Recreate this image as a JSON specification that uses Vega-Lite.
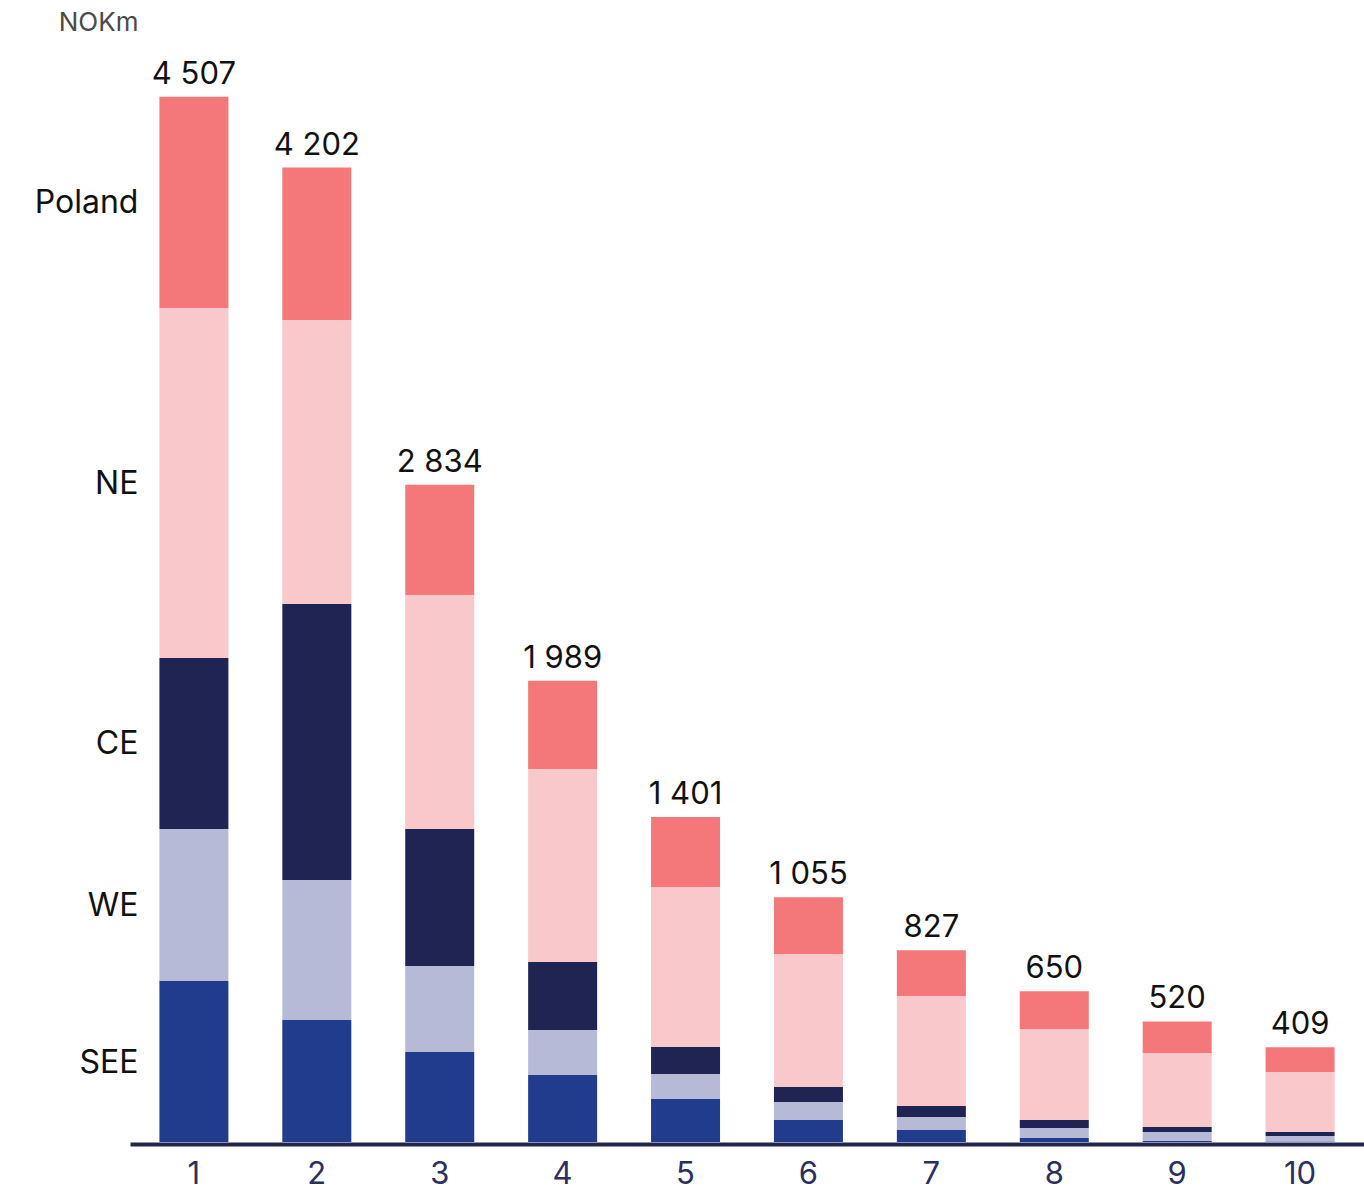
{
  "$schema": "https://vega.github.io/schema/vega-lite/v6.json",
  "autosize": {"type": "none"},
  "padding": {"left": 130, "top": 40, "right": 0, "bottom": 49},
  "width": 1234,
  "height": 1102,
  "background": "white",
  "config": {
    "view": {"stroke": null},
    "font": "Inter",
    "locale": {"number": {"decimal": ".", "thousands": " ", "grouping": [3], "currency": ["", ""]}}
  },
  "data": {
    "values": [
      {"bar": 1, "region": "SEE", "order": 1, "value": 694},
      {"bar": 1, "region": "WE", "order": 2, "value": 656},
      {"bar": 1, "region": "CE", "order": 3, "value": 737},
      {"bar": 1, "region": "NE", "order": 4, "value": 1509},
      {"bar": 1, "region": "Poland", "order": 5, "value": 911},
      {"bar": 2, "region": "SEE", "order": 1, "value": 526},
      {"bar": 2, "region": "WE", "order": 2, "value": 604},
      {"bar": 2, "region": "CE", "order": 3, "value": 1190},
      {"bar": 2, "region": "NE", "order": 4, "value": 1225},
      {"bar": 2, "region": "Poland", "order": 5, "value": 657},
      {"bar": 3, "region": "SEE", "order": 1, "value": 388},
      {"bar": 3, "region": "WE", "order": 2, "value": 371},
      {"bar": 3, "region": "CE", "order": 3, "value": 591},
      {"bar": 3, "region": "NE", "order": 4, "value": 1009},
      {"bar": 3, "region": "Poland", "order": 5, "value": 475},
      {"bar": 4, "region": "SEE", "order": 1, "value": 289},
      {"bar": 4, "region": "WE", "order": 2, "value": 194},
      {"bar": 4, "region": "CE", "order": 3, "value": 293},
      {"bar": 4, "region": "NE", "order": 4, "value": 832},
      {"bar": 4, "region": "Poland", "order": 5, "value": 381},
      {"bar": 5, "region": "SEE", "order": 1, "value": 185},
      {"bar": 5, "region": "WE", "order": 2, "value": 108},
      {"bar": 5, "region": "CE", "order": 3, "value": 117},
      {"bar": 5, "region": "NE", "order": 4, "value": 690},
      {"bar": 5, "region": "Poland", "order": 5, "value": 301},
      {"bar": 6, "region": "SEE", "order": 1, "value": 95},
      {"bar": 6, "region": "WE", "order": 2, "value": 77},
      {"bar": 6, "region": "CE", "order": 3, "value": 65},
      {"bar": 6, "region": "NE", "order": 4, "value": 574},
      {"bar": 6, "region": "Poland", "order": 5, "value": 244},
      {"bar": 7, "region": "SEE", "order": 1, "value": 52},
      {"bar": 7, "region": "WE", "order": 2, "value": 56},
      {"bar": 7, "region": "CE", "order": 3, "value": 47},
      {"bar": 7, "region": "NE", "order": 4, "value": 475},
      {"bar": 7, "region": "Poland", "order": 5, "value": 197},
      {"bar": 8, "region": "SEE", "order": 1, "value": 17},
      {"bar": 8, "region": "WE", "order": 2, "value": 43},
      {"bar": 8, "region": "CE", "order": 3, "value": 35},
      {"bar": 8, "region": "NE", "order": 4, "value": 392},
      {"bar": 8, "region": "Poland", "order": 5, "value": 163},
      {"bar": 9, "region": "SEE", "order": 1, "value": 4},
      {"bar": 9, "region": "WE", "order": 2, "value": 39},
      {"bar": 9, "region": "CE", "order": 3, "value": 22},
      {"bar": 9, "region": "NE", "order": 4, "value": 319},
      {"bar": 9, "region": "Poland", "order": 5, "value": 136},
      {"bar": 10, "region": "SEE", "order": 1, "value": 2},
      {"bar": 10, "region": "WE", "order": 2, "value": 24},
      {"bar": 10, "region": "CE", "order": 3, "value": 17},
      {"bar": 10, "region": "NE", "order": 4, "value": 259},
      {"bar": 10, "region": "Poland", "order": 5, "value": 107}
    ]
  },
  "encoding": {
    "x": {
      "field": "bar",
      "type": "ordinal",
      "scale": {"paddingInner": 0.4386, "paddingOuter": 0.2393},
      "axis": {
        "title": null,
        "labelAngle": 0,
        "ticks": false,
        "domainColor": "#23264f",
        "domainWidth": 4,
        "offset": 2,
        "labelFontSize": 31,
        "labelColor": "#2b2e5e",
        "labelPadding": 15,
        "grid": false
      }
    }
  },
  "layer": [
    {
      "mark": {"type": "bar"},
      "encoding": {
        "y": {
          "field": "value",
          "type": "quantitative",
          "aggregate": "sum",
          "stack": "zero",
          "scale": {"domain": [0, 4752], "nice": false},
          "axis": {
            "title": "NOKm",
            "labels": false,
            "ticks": false,
            "domain": false,
            "grid": false,
            "titleAngle": 0,
            "titleAlign": "right",
            "titleBaseline": "alphabetic",
            "titleX": 8,
            "titleY": -10,
            "titleFontSize": 26,
            "titleFontWeight": "normal",
            "titleColor": "#4a4a4a"
          }
        },
        "color": {
          "field": "region",
          "type": "nominal",
          "scale": {
            "domain": ["SEE", "WE", "CE", "NE", "Poland"],
            "range": ["#213c8d", "#b7bad7", "#202452", "#f8c8ca", "#f47879"]
          },
          "legend": null
        },
        "order": {"field": "order", "type": "quantitative"}
      }
    },
    {
      "transform": [
        {"aggregate": [{"op": "sum", "field": "value", "as": "total"}], "groupby": ["bar"]}
      ],
      "mark": {"type": "text", "baseline": "alphabetic", "align": "center", "dy": -13, "fontSize": 31, "color": "#111111"},
      "encoding": {
        "y": {"field": "total", "type": "quantitative"},
        "text": {"field": "total", "type": "quantitative", "format": ",d"}
      }
    },
    {
      "transform": [
        {"filter": "datum.bar == 1"},
        {"stack": "value", "groupby": ["bar"], "sort": [{"field": "order"}], "as": ["y0", "y1"]},
        {"calculate": "(datum.y0 + datum.y1) / 2", "as": "mid"}
      ],
      "mark": {"type": "text", "align": "right", "baseline": "middle", "dx": -55.5, "dy": 1, "fontSize": 32, "color": "#111111"},
      "encoding": {
        "y": {"field": "mid", "type": "quantitative"},
        "text": {"field": "region", "type": "nominal"}
      }
    }
  ]
}
